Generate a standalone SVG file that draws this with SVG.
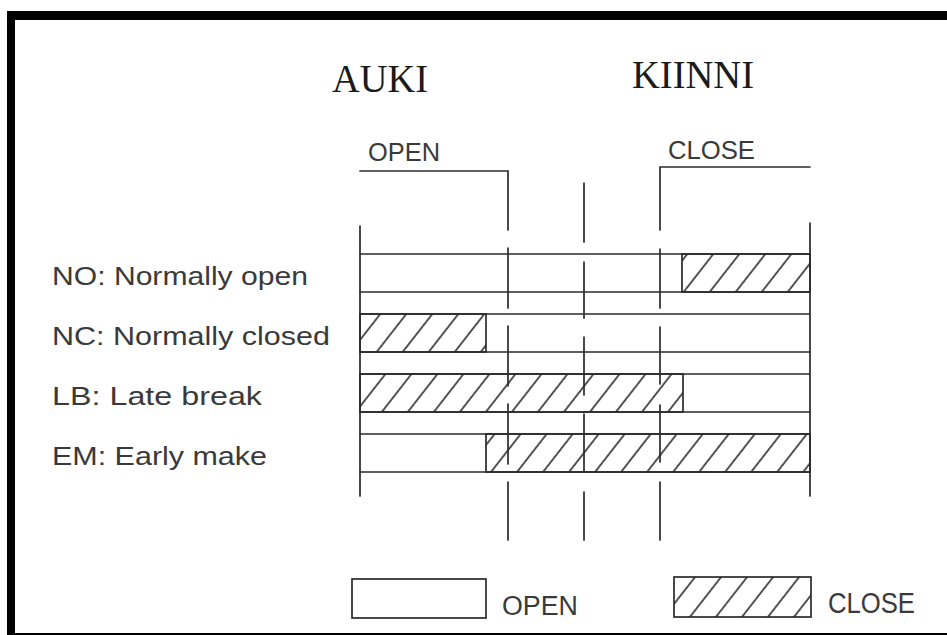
<svg xmlns="http://www.w3.org/2000/svg" width="947" height="635" viewBox="0 0 947 635">
<style>
.ln{stroke:#2b2b2b;stroke-width:1.7;fill:none;stroke-linecap:round}
.hx{fill:url(#hatch);stroke:#2b2b2b;stroke-width:1.7}
.lbl{font-family:"Liberation Sans",Arial,sans-serif;font-size:25px;fill:#3a3a3a}
.ttl{font-family:"Liberation Serif","Times New Roman",serif;font-size:39px;fill:#1a1a1a}
</style>
<defs>
<pattern id="hatch" patternUnits="userSpaceOnUse" width="20.5" height="100" patternTransform="rotate(38)">
<line x1="1" y1="0" x2="1" y2="100" stroke="#2b2b2b" stroke-width="1.6"/>
</pattern>
</defs>
<rect width="947" height="635" fill="#fff"/>
<path id="frame" d="M7 11 H947 V20 H15 V633 H947 V635 H7 Z" fill="#000"/>
<g id="titles">
<text class="ttl" x="332" y="92" textLength="96" lengthAdjust="spacingAndGlyphs">AUKI</text>
<text class="ttl" x="632" y="88" textLength="122" lengthAdjust="spacingAndGlyphs">KIINNI</text>
<text class="lbl" x="368" y="161" textLength="72" lengthAdjust="spacingAndGlyphs">OPEN</text>
<text class="lbl" x="668" y="159" textLength="87" lengthAdjust="spacingAndGlyphs">CLOSE</text>
</g>
<g id="row-labels">
<text class="lbl" x="52" y="285" textLength="256" lengthAdjust="spacingAndGlyphs">NO: Normally open</text>
<text class="lbl" x="52" y="345" textLength="278" lengthAdjust="spacingAndGlyphs">NC: Normally closed</text>
<text class="lbl" x="52" y="405" textLength="210" lengthAdjust="spacingAndGlyphs">LB: Late break</text>
<text class="lbl" x="52" y="465" textLength="215" lengthAdjust="spacingAndGlyphs">EM: Early make</text>
</g>
<g id="hatched-regions">
<rect class="hx" x="682" y="254" width="128" height="38"/>
<rect class="hx" x="360" y="314" width="126" height="38"/>
<rect class="hx" x="360" y="374" width="323" height="38"/>
<rect class="hx" x="486" y="434" width="324" height="38"/>
</g>
<g id="connectors">
<path class="ln" d="M360 171 H508 V230"/>
<path class="ln" d="M810 167 H660 V230"/>
<path class="ln" d="M360 226 V496 M810 223 V496"/>
<path class="ln" d="M360 254 H810 M360 292 H810 M360 314 H810 M360 352 H810 M360 374 H810 M360 412 H810 M360 434 H810 M360 472 H810"/>
<path class="ln" d="M508 248 V308 M508 326 V386 M508 404 V464 M508 482 V540"/>
<path class="ln" d="M660 249 V308 M660 327 V384 M660 405 V462 M660 482 V540"/>
<path class="ln" d="M584 183 V242 M584 262 V318 M584 337 V395 M584 414 V472 M584 492 V540"/>
</g>
<g id="legend-open">
<rect class="ln" x="352" y="579" width="134" height="39"/>
<text class="lbl" x="502" y="615" style="font-size:27px" textLength="76" lengthAdjust="spacingAndGlyphs">OPEN</text>
</g>
<g id="legend-close">
<rect class="hx" x="674" y="577" width="137" height="40"/>
<text class="lbl" x="828" y="613" style="font-size:29px" textLength="87" lengthAdjust="spacingAndGlyphs">CLOSE</text>
</g>
</svg>
